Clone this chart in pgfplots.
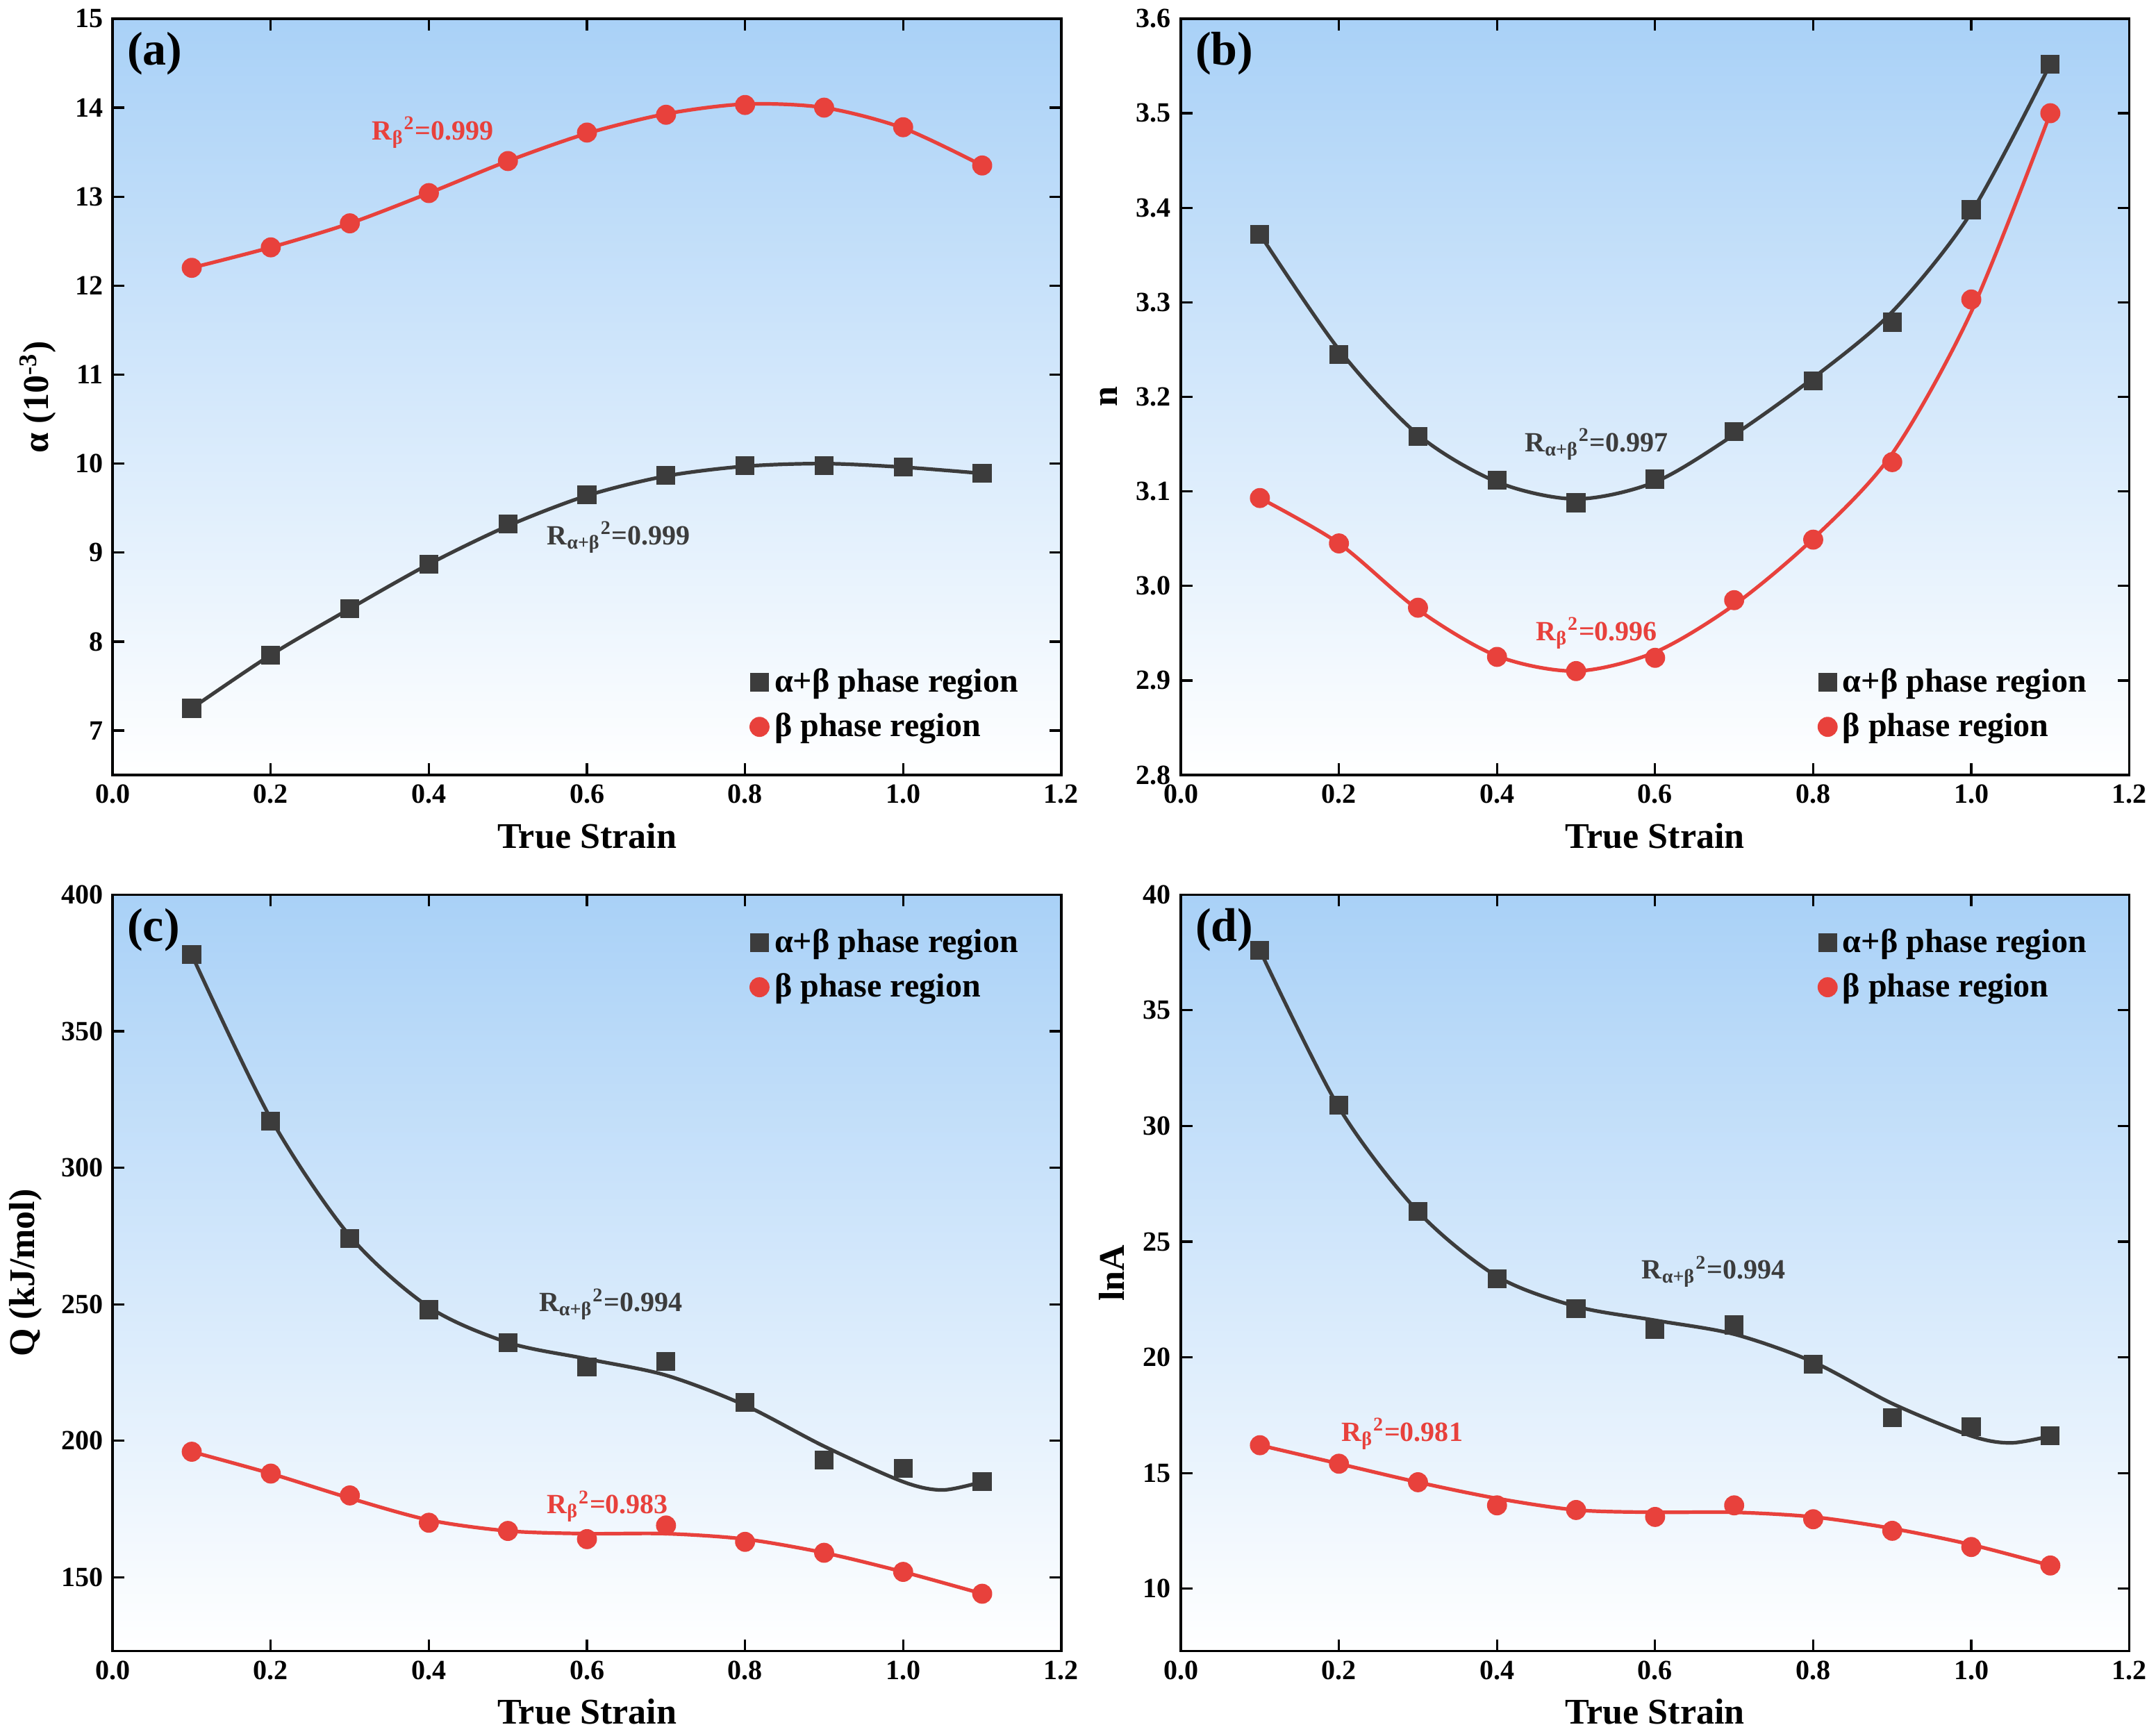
\documentclass[border=0pt]{standalone}
\usepackage{pgfplots}
\pgfplotsset{compat=1.18}
\usepgfplotslibrary{groupplots}
\usepackage{fontspec}
\setmainfont{Liberation Serif}
\definecolor{bk}{HTML}{3C3C3C}
\definecolor{rd}{HTML}{E8413C}
\definecolor{bg}{HTML}{A9D1F7}
\pgfplotsset{
 every axis/.append style={
  scale only axis, width=341pt, height=272pt,
  xmin=0, xmax=1.2, xtick={0,0.2,...,1.2},
  xticklabel style={/pgf/number format/fixed,/pgf/number format/fixed zerofill,/pgf/number format/precision=1},
  /pgf/number format/assume math mode=true,
  tick label style={font=\fontsize{10}{12}\selectfont\bfseries},
  label style={font=\fontsize{13}{15}\selectfont\bfseries},
  xlabel={True Strain},
  axis line style={line width=0.9pt},
  tick style={line width=0.8pt,black},
  axis background/.style={top color=bg, bottom color=white},
  legend style={draw=none, fill=none, font=\fontsize{12}{14}\selectfont\bfseries, row sep=2pt},
  legend cell align=left,
 },
 fitk/.style={bk, line width=1.3pt, smooth, no marks, forget plot},
 fitr/.style={rd, line width=1.3pt, smooth, no marks, forget plot},
 ptk/.style={only marks, mark=square*, mark size=3.2pt, color=bk},
 ptr/.style={only marks, mark=*, mark size=3.4pt, color=rd},
}
\newcommand{\plab}[1]{\node[anchor=north west,font=\fontsize{17}{19}\selectfont\bfseries] at (rel axis cs:0.005,0.995) {#1};}
\begin{document}
\begin{tikzpicture}
\begin{groupplot}[group style={group size=2 by 2, horizontal sep=43pt, vertical sep=43pt}]
% (a)
\nextgroupplot[ymin=6.5, ymax=15, ytick={7,...,15}, ylabel={α (10\textsuperscript{-3})}, legend pos=south east]
\addplot[fitk] coordinates {(0.1,7.25)(0.2,7.85)(0.3,8.37)(0.4,8.87)(0.5,9.30)(0.6,9.64)(0.7,9.86)(0.8,9.97)(0.9,10.0)(1.0,9.96)(1.1,9.89)};
\addplot[fitr] coordinates {(0.1,12.2)(0.2,12.43)(0.3,12.7)(0.4,13.04)(0.5,13.4)(0.6,13.71)(0.7,13.93)(0.8,14.04)(0.9,14.0)(1.0,13.77)(1.1,13.35)};
\addplot[ptk] coordinates {(0.1,7.25)(0.2,7.85)(0.3,8.37)(0.4,8.87)(0.5,9.32)(0.6,9.65)(0.7,9.87)(0.8,9.98)(0.9,9.98)(1.0,9.96)(1.1,9.89)};
\addplot[ptr] coordinates {(0.1,12.2)(0.2,12.43)(0.3,12.7)(0.4,13.04)(0.5,13.4)(0.6,13.72)(0.7,13.92)(0.8,14.03)(0.9,14.0)(1.0,13.78)(1.1,13.35)};
\legend{α+β phase region, β phase region}
\plab{(a)}
\node[rd,font=\bfseries] at (axis cs:0.405,13.72) {R\textsubscript{β}\textsuperscript{2}=0.999};
\node[bk,font=\bfseries] at (axis cs:0.64,9.17) {R\textsubscript{α+β}\textsuperscript{2}=0.999};
% (b)
\nextgroupplot[ymin=2.8, ymax=3.6, ytick={2.8,2.9,...,3.6}, ylabel={n}, legend pos=south east,
 yticklabel style={/pgf/number format/fixed,/pgf/number format/fixed zerofill,/pgf/number format/precision=1}]
\addplot[fitk] coordinates {(0.1,3.372)(0.2,3.25)(0.3,3.16)(0.4,3.11)(0.5,3.092)(0.6,3.11)(0.7,3.16)(0.8,3.22)(0.9,3.29)(1.0,3.395)(1.1,3.552)};
\addplot[fitr] coordinates {(0.1,3.093)(0.2,3.045)(0.3,2.975)(0.4,2.926)(0.5,2.91)(0.6,2.93)(0.7,2.98)(0.8,3.05)(0.9,3.14)(1.0,3.29)(1.1,3.5)};
\addplot[ptk] coordinates {(0.1,3.372)(0.2,3.245)(0.3,3.158)(0.4,3.112)(0.5,3.088)(0.6,3.113)(0.7,3.163)(0.8,3.217)(0.9,3.279)(1.0,3.398)(1.1,3.552)};
\addplot[ptr] coordinates {(0.1,3.093)(0.2,3.045)(0.3,2.977)(0.4,2.925)(0.5,2.91)(0.6,2.924)(0.7,2.985)(0.8,3.049)(0.9,3.131)(1.0,3.303)(1.1,3.5)};
\legend{α+β phase region, β phase region}
\plab{(b)}
\node[bk,font=\bfseries] at (axis cs:0.526,3.15) {R\textsubscript{α+β}\textsuperscript{2}=0.997};
\node[rd,font=\bfseries] at (axis cs:0.526,2.95) {R\textsubscript{β}\textsuperscript{2}=0.996};
% (c)
\nextgroupplot[ymin=123, ymax=400, ytick={150,200,...,400}, ylabel={Q (kJ/mol)}, legend pos=north east]
\addplot[fitk] coordinates {(0.1,378)(0.2,318)(0.3,275)(0.4,249)(0.5,236)(0.6,230)(0.7,224)(0.8,213)(0.9,198)(1.0,185)(1.05,182)(1.1,185)};
\addplot[fitr] coordinates {(0.1,196)(0.2,188)(0.3,179)(0.4,171)(0.5,167)(0.6,166)(0.7,166)(0.8,164)(0.9,159)(1.0,152)(1.1,144)};
\addplot[ptk] coordinates {(0.1,378)(0.2,317)(0.3,274)(0.4,248)(0.5,236)(0.6,227)(0.7,229)(0.8,214)(0.9,193)(1.0,190)(1.1,185)};
\addplot[ptr] coordinates {(0.1,196)(0.2,188)(0.3,180)(0.4,170)(0.5,167)(0.6,164)(0.7,169)(0.8,163)(0.9,159)(1.0,152)(1.1,144)};
\legend{α+β phase region, β phase region}
\plab{(c)}
\node[bk,font=\bfseries] at (axis cs:0.63,250) {R\textsubscript{α+β}\textsuperscript{2}=0.994};
\node[rd,font=\bfseries] at (axis cs:0.626,176) {R\textsubscript{β}\textsuperscript{2}=0.983};
% (d)
\nextgroupplot[ymin=7.3, ymax=40, ytick={10,15,...,40}, ylabel={lnA}, legend pos=north east]
\addplot[fitk] coordinates {(0.1,37.6)(0.2,30.8)(0.3,26.3)(0.4,23.5)(0.5,22.2)(0.6,21.6)(0.7,21.0)(0.8,19.8)(0.9,18.0)(1.0,16.6)(1.05,16.3)(1.1,16.6)};
\addplot[fitr] coordinates {(0.1,16.2)(0.2,15.4)(0.3,14.6)(0.4,13.9)(0.5,13.4)(0.6,13.3)(0.7,13.3)(0.8,13.1)(0.9,12.6)(1.0,11.9)(1.1,11.0)};
\addplot[ptk] coordinates {(0.1,37.6)(0.2,30.9)(0.3,26.3)(0.4,23.4)(0.5,22.1)(0.6,21.2)(0.7,21.4)(0.8,19.7)(0.9,17.4)(1.0,17.0)(1.1,16.6)};
\addplot[ptr] coordinates {(0.1,16.2)(0.2,15.4)(0.3,14.6)(0.4,13.6)(0.5,13.4)(0.6,13.1)(0.7,13.6)(0.8,13.0)(0.9,12.5)(1.0,11.8)(1.1,11.0)};
\legend{α+β phase region, β phase region}
\plab{(d)}
\node[bk,font=\bfseries] at (axis cs:0.674,23.7) {R\textsubscript{α+β}\textsuperscript{2}=0.994};
\node[rd,font=\bfseries] at (axis cs:0.28,16.7) {R\textsubscript{β}\textsuperscript{2}=0.981};
\end{groupplot}
\end{tikzpicture}
\end{document}
